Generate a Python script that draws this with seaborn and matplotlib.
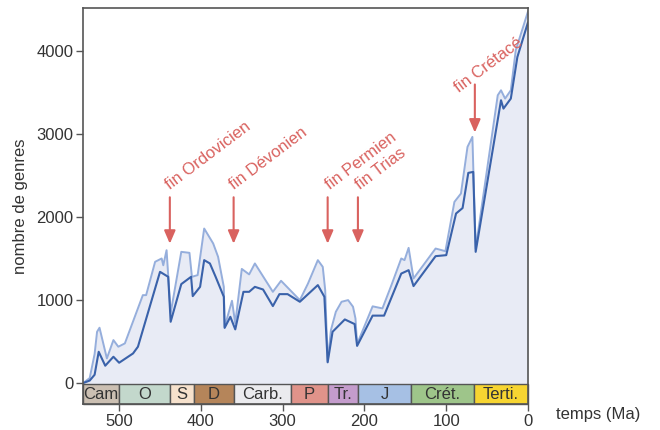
import matplotlib
matplotlib.use("Agg")
import matplotlib.pyplot as plt
import seaborn as sns
import pandas as pd
from matplotlib.patches import Rectangle

# ---- data ----
ma_dark = [544, 536, 530, 525, 517, 507, 500, 483, 477, 450, 440, 437, 424, 412, 410,
           401, 396, 389, 382, 372, 371, 364, 358, 348, 341, 334, 324, 312, 304, 294,
           279, 257, 249, 245, 239, 224, 212, 209, 190, 176, 155, 146, 140, 113, 100,
           88, 80, 73, 67, 64, 33, 30, 21, 13, 0]
dark = [0, 30, 100, 377, 209, 317, 245, 357, 438, 1341, 1281, 739, 1193, 1281, 1048,
        1160, 1482, 1442, 1281, 1040, 665, 799, 647, 1100, 1100, 1160, 1128, 928, 1072, 1072,
        980, 1181, 1040, 250, 618, 767, 711, 448, 813, 813, 1320, 1361, 1169, 1530, 1542,
        2044, 2110, 2534, 2546, 1582, 3410, 3309, 3430, 3931, 4350]

ma_light = [544, 536, 530, 527, 524, 515, 507, 501, 493, 471, 467, 456, 448, 446, 442,
            437, 424, 414, 411, 404, 396, 385, 379, 372, 371, 362, 358, 350, 341, 334,
            312, 302, 279, 269, 257, 251, 248, 245, 241, 235, 228, 220, 214, 211, 209,
            190, 178, 167, 155, 151, 146, 140, 113, 101, 90, 82, 74, 68, 64, 37,
            33, 28, 21, 15, 0]
light = [0, 60, 350, 618, 667, 297, 518, 438, 478, 1060, 1060, 1462, 1502, 1420, 1602,
         843, 1582, 1570, 1281, 1301, 1863, 1683, 1522, 1160, 678, 992, 719, 1376, 1310, 1442,
         1100, 1233, 1000, 1201, 1482, 1401, 1120, 260, 639, 859, 980, 1000, 920, 779, 470,
         925, 900, 1181, 1502, 1482, 1630, 1261, 1622, 1590, 2184, 2285, 2847, 2968, 1620, 3470,
         3530, 3430, 3530, 4012, 4480]

periods = ["Cam", "O", "S", "D", "Carb.", "P", "Tr.", "J", "Crét.", "Terti."]
period_start = [544, 500, 438, 408, 360, 290, 245, 208, 143, 66]
period_end = [500, 438, 408, 360, 290, 245, 208, 143, 66, 0]
period_colors = ["#cbbfb2", "#c3d8cc", "#f6e1cc", "#b5855a", "#ebebee",
                 "#e0938a", "#c49ccc", "#a6c0e4", "#9ec58a", "#f7d531"]

events = ["fin Ordovicien", "fin Dévonien", "fin Permien", "fin Trias", "fin Crétacé"]
event_ma = [438, 360, 245, 208, 65]
event_top = [2240, 2240, 2240, 2240, 3600]
event_tip = [1680, 1680, 1680, 1680, 3020]

xticks = [500, 400, 300, 200, 100, 0]
yticks = [0, 1000, 2000, 3000, 4000]

# ---- style ----
sns.set_theme(style="white")
plt.rcParams["font.family"] = ["Liberation Sans", "DejaVu Sans"]

fig = plt.figure(figsize=(6.6, 4.3), dpi=100)
ax = fig.add_axes([0.126, 0.06, 0.674, 0.921])

red = "#d9625f"
text_gray = "#333333"
spine_gray = "#555555"

df_dark = pd.DataFrame({"Ma": ma_dark, "genres": dark})
df_light = pd.DataFrame({"Ma": ma_light, "genres": light})

bar_top = -12
ylow = -255
ax.fill_between(df_light["Ma"], df_light["genres"], bar_top, color="#e8ebf5", lw=0, zorder=1)
sns.lineplot(data=df_light, x="Ma", y="genres", ax=ax, color="#95aedc", lw=1.4,
             sort=False, estimator=None, zorder=3)
sns.lineplot(data=df_dark, x="Ma", y="genres", ax=ax, color="#3a62aa", lw=1.5,
             sort=False, estimator=None, zorder=4)

# period bar
for name, s, e, c in zip(periods, period_start, period_end, period_colors):
    ax.add_patch(Rectangle((e, ylow), s - e, bar_top - ylow, facecolor=c,
                           edgecolor=spine_gray, lw=1.0, zorder=5, clip_on=False))
    ax.text((s + e) / 2, (ylow + bar_top) / 2 - 5, name, ha="center", va="center",
            fontsize=12, color=text_gray, zorder=6)

# events (label offsets relative to arrow top, in data units)
label_dx = [0, -1, -3, -3, 19]
label_dy = [90, 90, 90, 90, -100]
for name, m, top, tip, dx, dy in zip(events, event_ma, event_top, event_tip, label_dx, label_dy):
    ax.annotate("", xy=(m, tip), xytext=(m, top),
                arrowprops=dict(arrowstyle="-|>,head_length=0.65,head_width=0.28",
                                color=red, lw=1.5, shrinkA=0, shrinkB=0), zorder=6)
    ax.text(m + dx, top + dy, name, rotation=37, rotation_mode="anchor",
            ha="left", va="baseline", color=red, fontsize=12, zorder=6)

ax.set_xlim(544, 0)
ax.set_ylim(ylow, 4520)
ax.set_xticks(xticks)
ax.set_yticks(yticks)
ax.set_xlabel("")
ax.set_ylabel("nombre de genres", fontsize=12, color=text_gray, labelpad=6)
ax.tick_params(axis="both", direction="out", length=5, width=1, color=spine_gray,
               labelsize=12, labelcolor=text_gray, bottom=True, left=True, pad=2)
for sp in ax.spines.values():
    sp.set_color(spine_gray)
    sp.set_linewidth(1.2)
    sp.set_zorder(7)

fig.text(0.842, 0.035, "temps (Ma)", fontsize=12, color=text_gray, ha="left", va="center")

fig.savefig("out.png", dpi=100)
